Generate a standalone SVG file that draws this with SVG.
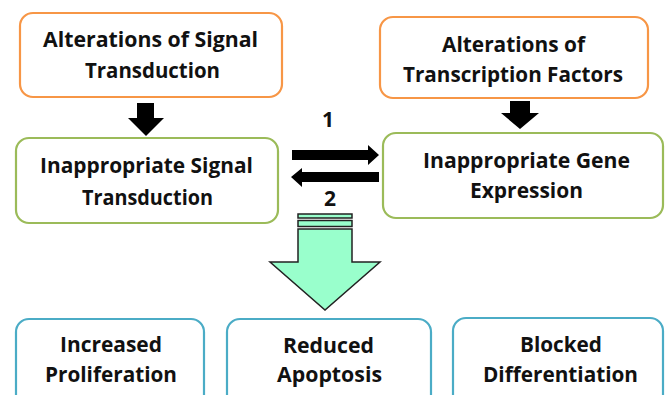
<svg xmlns="http://www.w3.org/2000/svg" width="665" height="395" viewBox="0 0 665 395">
<style>
.box{fill:#fff;stroke-width:2.2}
.o{stroke:#F79646}
.g{stroke:#9BBB59}
.b{stroke:#4BACC6}
text{font-family:"Open Sans","Liberation Sans",sans-serif;font-weight:bold;font-size:21px;fill:#111}
.blk{fill:#000}
.mint{fill:#99FFCC;stroke:#222;stroke-width:1.5}
</style>
<rect width="665" height="395" fill="#fff"/>
<g id="alt-signal">
<rect class="box o" x="20" y="13" width="262" height="84" rx="13"/>
<text x="43" y="47" textLength="215" lengthAdjust="spacingAndGlyphs">Alterations of Signal</text>
<text x="85" y="78" textLength="135" lengthAdjust="spacingAndGlyphs">Transduction</text>
</g>
<g id="alt-tf">
<rect class="box o" x="380" y="17" width="268" height="81" rx="13"/>
<text x="442" y="52" textLength="143" lengthAdjust="spacingAndGlyphs">Alterations of</text>
<text x="403" y="82" textLength="220" lengthAdjust="spacingAndGlyphs">Transcription Factors</text>
</g>
<g id="inap-signal">
<rect class="box g" x="16" y="138" width="262" height="85" rx="13"/>
<text x="40" y="173" textLength="213" lengthAdjust="spacingAndGlyphs">Inappropriate Signal</text>
<text x="82" y="205" textLength="131" lengthAdjust="spacingAndGlyphs">Transduction</text>
</g>
<g id="inap-gene">
<rect class="box g" x="383" y="133" width="280" height="85" rx="13"/>
<text x="423" y="168" textLength="207" lengthAdjust="spacingAndGlyphs">Inappropriate Gene</text>
<text x="470" y="198" textLength="113" lengthAdjust="spacingAndGlyphs">Expression</text>
</g>
<g id="prolif">
<rect class="box b" x="16" y="319" width="188" height="100" rx="13"/>
<text x="60" y="352" textLength="102" lengthAdjust="spacingAndGlyphs">Increased</text>
<text x="45" y="382" textLength="132" lengthAdjust="spacingAndGlyphs">Proliferation</text>
</g>
<g id="apop">
<rect class="box b" x="227" y="319" width="204" height="100" rx="13"/>
<text x="283" y="353" textLength="91" lengthAdjust="spacingAndGlyphs">Reduced</text>
<text x="277" y="382" textLength="105" lengthAdjust="spacingAndGlyphs">Apoptosis</text>
</g>
<g id="diff">
<rect class="box b" x="453" y="318" width="210" height="100" rx="13"/>
<text x="520" y="352" textLength="82" lengthAdjust="spacingAndGlyphs">Blocked</text>
<text x="483" y="382" textLength="155" lengthAdjust="spacingAndGlyphs">Differentiation</text>
</g>
<g id="connectors">
<polygon class="blk" points="137,103 154,103 154,118 164,118 146,136 128,118 137,118"/>
<polygon class="blk" points="510,101 530,101 530,113 539,113 520,129 501,113 510,113"/>
<polygon class="blk" points="292,150 368,150 368,145 379,155 368,165 368,160 292,160"/>
<polygon class="blk" points="379,172 379,182 302,182 302,187 291,177 302,168 302,172"/>
<text x="328" y="127" text-anchor="middle">1</text>
<text x="330" y="206" text-anchor="middle">2</text>
<rect class="mint" x="298" y="214" width="54" height="4"/>
<rect class="mint" x="298" y="220.5" width="54" height="6"/>
<polygon class="mint" points="298,229 352,229 352,262 380,262 325,310 270,262 298,262"/>
</g>
</svg>
